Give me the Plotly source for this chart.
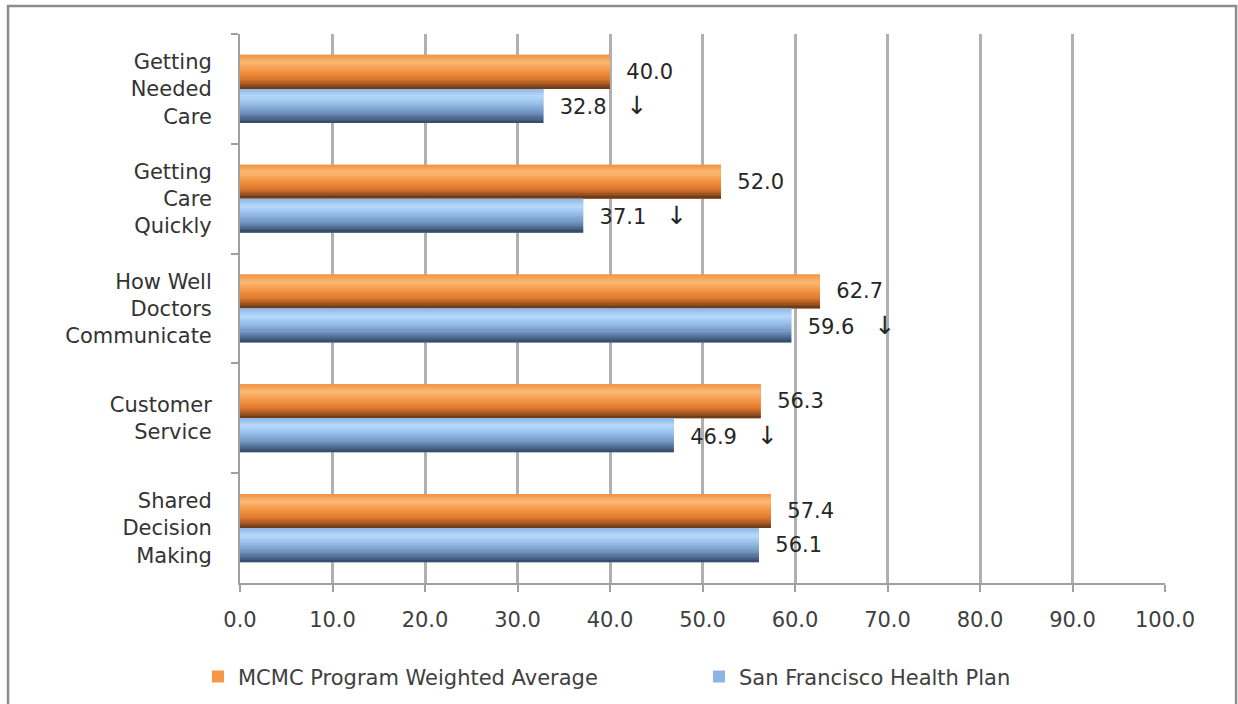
import plotly.graph_objects as go

# Survey composite scores (percent), one row per measure
categories = [
    "Getting<br>Needed<br>Care",
    "Getting<br>Care<br>Quickly",
    "How Well<br>Doctors<br>Communicate",
    "Customer<br>Service",
    "Shared<br>Decision<br>Making",
]
mcmc_avg = [40.0, 52.0, 62.7, 56.3, 57.4]
sfhp_scores = [32.8, 37.1, 59.6, 46.9, 56.1]
# True where the plan score is significantly below the program average
sfhp_below = [True, True, True, True, False]

x_ticks = [0, 10, 20, 30, 40, 50, 60, 70, 80, 90, 100]
x_ticktext = [f"{v:.1f}" for v in x_ticks]

FONT = "DejaVu Sans"
FS = 21
NB = "\u00a0"

BAR_W = 0.31
N_STRIPS = 18

# vertical shading profiles (top -> bottom of each bar)
orange_profile = [
    (0.00, (238, 146, 66)),
    (0.22, (252, 186, 118)),
    (0.45, (246, 152, 72)),
    (0.70, (222, 120, 44)),
    (0.88, (150, 80, 32)),
    (1.00, (98, 54, 24)),
]
blue_profile = [
    (0.00, (142, 182, 228)),
    (0.22, (184, 218, 252)),
    (0.45, (150, 188, 232)),
    (0.70, (112, 146, 190)),
    (0.88, (72, 98, 134)),
    (1.00, (52, 72, 102)),
]


def shade(profile, t):
    for (t0, c0), (t1, c1) in zip(profile[:-1], profile[1:]):
        if t0 <= t <= t1:
            f = (t - t0) / (t1 - t0) if t1 > t0 else 0
            r, g, b = (round(a + (bb - a) * f) for a, bb in zip(c0, c1))
            return f"rgb({r},{g},{b})"
    r, g, b = profile[-1][1]
    return f"rgb({r},{g},{b})"


fig = go.Figure()


def add_series(name, values, texts, base_color, profile, offset):
    # solid base bar carries the legend entry and the value labels
    fig.add_trace(go.Bar(
        name=name, y=categories, x=values, orientation="h",
        offset=offset, width=BAR_W,
        marker=dict(color=base_color, line=dict(width=0)),
        text=texts, textposition="outside", constraintext="none",
        textfont=dict(family=FONT, size=FS, color="#262626"),
        cliponaxis=False, hoverinfo="skip",
    ))
    # thin overlaid strips give the rounded, shaded look
    step = BAR_W / N_STRIPS
    for i in range(N_STRIPS):
        t = (i + 0.5) / N_STRIPS
        w = step * 1.2 if i < N_STRIPS - 1 else step
        fig.add_trace(go.Bar(
            y=categories, x=values, orientation="h",
            offset=offset + i * step, width=w,
            marker=dict(color=shade(profile, t), line=dict(width=0)),
            showlegend=False, hoverinfo="skip",
        ))


ARROW = '<span style="font-size:25px">↓</span>'
mcmc_text = [f"{NB*2}{v:.1f}" for v in mcmc_avg]
sfhp_text = [f"{NB*2}{v:.1f}" + (f"{NB*3}{ARROW}" if low else "")
             for v, low in zip(sfhp_scores, sfhp_below)]

add_series("MCMC Program Weighted Average", mcmc_avg, mcmc_text,
           "#f79646", orange_profile, -BAR_W)
add_series("San Francisco Health Plan", sfhp_scores, sfhp_text,
           "#8db4e2", blue_profile, 0.0)

fig.update_layout(
    width=1238, height=704,
    margin=dict(l=240, r=73, t=34, b=121, autoexpand=False),
    paper_bgcolor="white", plot_bgcolor="white",
    barmode="overlay",
    font=dict(family=FONT, size=FS, color="#404040"),
    showlegend=True,
    legend=dict(
        orientation="h", x=-0.0454, xanchor="left", y=-0.171, yanchor="middle",
        font=dict(family=FONT, size=FS, color="#404040"),
        traceorder="normal", entrywidth=456, entrywidthmode="pixels",
        itemwidth=30, bgcolor="rgba(0,0,0,0)",
    ),
    xaxis=dict(
        range=[0, 100], tickvals=x_ticks, ticktext=x_ticktext,
        showgrid=True, gridcolor="#b0b0b0", gridwidth=2.5,
        zeroline=False, showline=True, linecolor="#a0a0a0", linewidth=2,
        ticks="outside", ticklen=7, tickwidth=2, tickcolor="#a0a0a0",
        tickfont=dict(family=FONT, size=FS, color="#404040"),
        ticklabelstandoff=10,
    ),
    yaxis=dict(
        categoryorder="array", categoryarray=categories,
        autorange="reversed", tickson="boundaries",
        showgrid=False, zeroline=False,
        showline=True, linecolor="#a0a0a0", linewidth=2,
        ticks="outside", ticklen=7, tickwidth=2, tickcolor="#a0a0a0",
        tickfont=dict(family=FONT, size=FS, color="#333333"),
        ticklabelstandoff=22,
    ),
    shapes=[dict(
        type="rect", xref="paper", yref="paper",
        x0=-0.2508, x1=1.0768, y0=-0.25, y1=1.051,
        line=dict(color="#8c8c8c", width=2.5), fillcolor="rgba(0,0,0,0)",
        layer="below",
    )],
)

fig.write_html("out.html")
